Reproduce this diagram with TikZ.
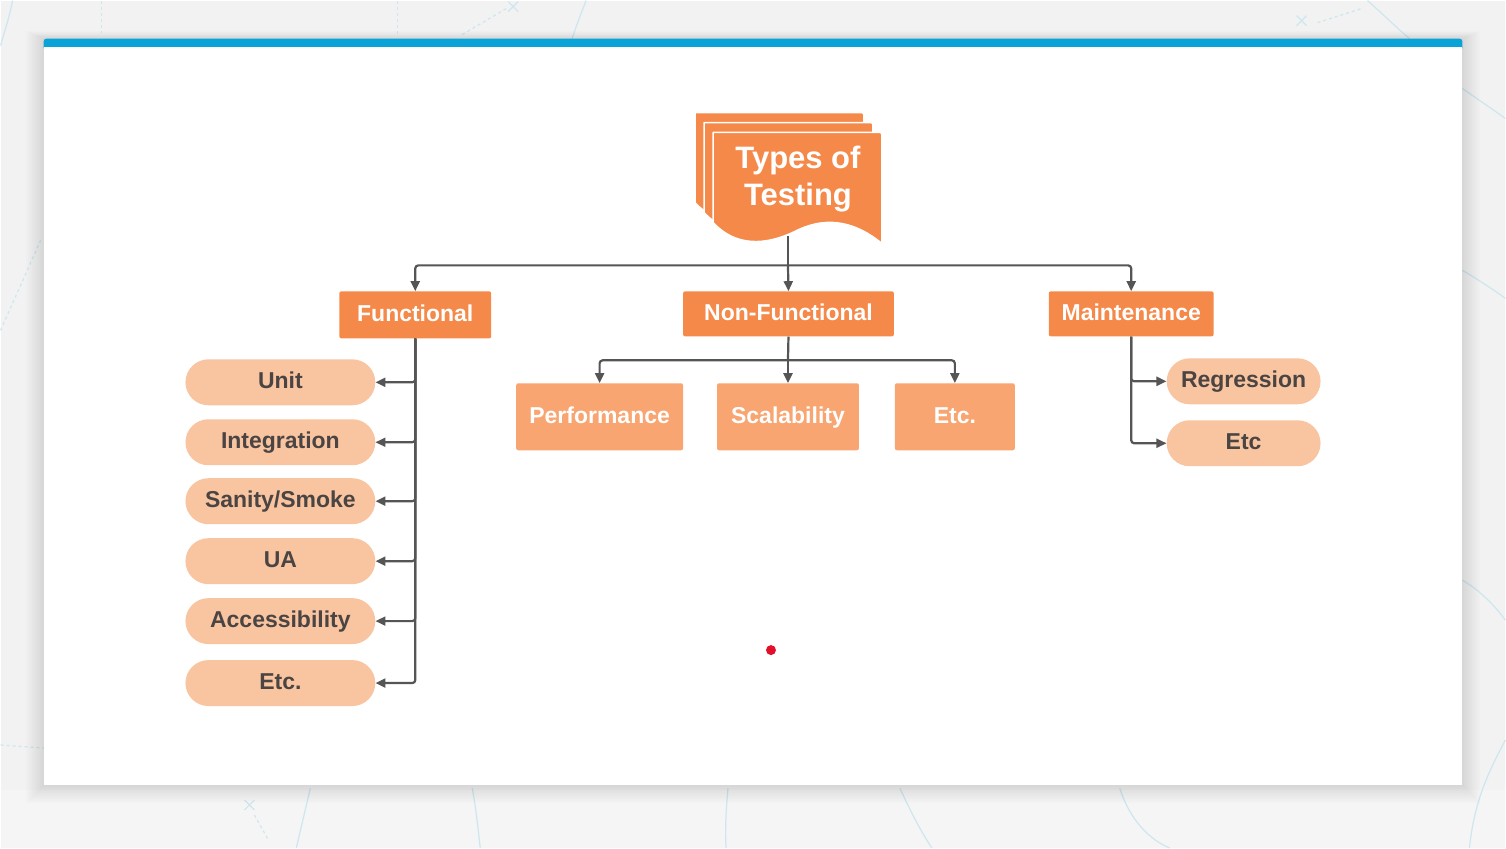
\documentclass[tikz,border=0pt]{standalone}
\usepackage{fontspec}
\setmainfont{Liberation Sans}
\usetikzlibrary{shapes.misc,arrows.meta}
\definecolor{bgc}{HTML}{F2F2F2}
\definecolor{deco}{HTML}{CDE6EF}
\definecolor{barblue}{HTML}{0AA3D8}
\definecolor{orangeA}{HTML}{F5894A}
\definecolor{orangeB}{HTML}{F8A571}
\definecolor{peach}{HTML}{F9C4A0}
\definecolor{txtdark}{HTML}{4A4443}
\definecolor{linec}{HTML}{555555}
\definecolor{reddot}{HTML}{E3102B}
\begin{document}
\begin{tikzpicture}[x=1pt,y=-1pt,
  lbl/.style={font=\fontsize{23}{27}\selectfont\bfseries, text height=17pt, text depth=4pt},
  mainbox/.style={lbl, fill=orangeA, rounded corners=2pt, text=white, inner sep=0pt},
  subbox/.style={lbl, fill=orangeB, rounded corners=2pt, text=white, inner sep=0pt},
  pill/.style={lbl, rounded rectangle, fill=peach, text=txtdark, minimum height=46pt, inner sep=0pt},
  wire/.style={draw=linec, line width=2.2pt, rounded corners=3pt},
  conn/.style={wire, -{Triangle[length=10pt,width=9pt]}},
  decoline/.style={draw=deco, line width=1.2pt},
  titlepage/.style={fill=orangeA, draw=white, line width=1.5pt, line join=round}]
% background
\fill[bgc] (0,0) rectangle (1506,848);
\fill[black!4] (0,790) rectangle (1506,848);
% faint decorations
\draw[decoline, dashed] (101,0) -- (101,32);
\draw[decoline, dashed] (397,0) -- (397,36);
\draw[decoline, dashed] (462,34) -- (506,8);
\draw[decoline] (508,1) -- (518,11) (518,1) -- (508,11);
\draw[decoline] (572,38) .. controls (578,20) and (582,10) .. (586,0);
\draw[decoline] (12,0) .. controls (8,20) and (4,30) .. (0,45);
\draw[decoline] (1297,15) -- (1307,25) (1307,15) -- (1297,25);
\draw[decoline, dashed] (1318,22) -- (1362,8);
\draw[decoline] (1368,0) .. controls (1385,15) and (1398,28) .. (1410,38);
\draw[decoline] (1463,88) .. controls (1480,100) and (1495,110) .. (1506,118);
\draw[decoline] (1463,270) .. controls (1480,280) and (1495,290) .. (1506,298);
\draw[decoline] (1463,580) .. controls (1480,590) and (1495,605) .. (1506,620);
\draw[decoline] (1506,740) .. controls (1490,770) and (1475,800) .. (1470,848);
\draw[decoline, dashed] (0,330) -- (40,240);
\draw[decoline, dashed] (0,745) -- (43,748);
\draw[decoline] (244,800) -- (254,810) (254,800) -- (244,810);
\draw[decoline, dashed] (254,815) -- (268,840);
\draw[decoline] (310,788) .. controls (305,810) and (300,830) .. (296,848);
\draw[decoline] (472,788) .. controls (476,810) and (478,830) .. (480,848);
\draw[decoline] (728,788) .. controls (726,810) and (725,830) .. (726,848);
\draw[decoline] (900,788) .. controls (910,810) and (920,830) .. (932,848);
\draw[decoline] (1120,788) .. controls (1130,820) and (1150,840) .. (1170,848);
% card shadow
\foreach \d in {2,4,...,18}
  \fill[black, opacity=0.012] (43-\d,38-\d*0.4) rectangle (1463+\d,785+\d);
% card
\fill[white] (43,40) rectangle (1463,785);
\fill[barblue, rounded corners=3pt] (43,38) rectangle (1463,50);
\fill[white] (43,46) rectangle (1463,52);
% title: stacked documents
\foreach \s in {-18,-9,0}{
  \begin{scope}[shift={(\s,\s*1.1)}]
    \path[titlepage, rounded corners=2pt] (713,132) -- (882,132) -- (882,243)
      [rounded corners=0pt] .. controls (858,224) and (830,214) .. (797,230)
      .. controls (765,246) and (735,246) .. (713,222) -- cycle;
  \end{scope}
}
\node[font=\fontsize{31}{37}\selectfont\bfseries, text=white, align=center] (title) at (798,178.5) {Types of\\Testing};
\coordinate (tb) at (788,236);
% level 1
\node[mainbox, minimum width=152pt, minimum height=47pt] (func) at (415,314.5) {Functional};
\node[mainbox, minimum width=211pt, minimum height=45pt] (nf) at (788.5,313.5) {Non-Functional};
\node[mainbox, minimum width=165pt, minimum height=45pt] (maint) at (1131.5,313.5) {Maintenance};
% non-functional children
\node[subbox, minimum width=167pt, minimum height=67pt] (perf) at (599.5,416.5) {Performance};
\node[subbox, minimum width=142pt, minimum height=67pt] (scal) at (788,416.5) {Scalability};
\node[subbox, minimum width=120pt, minimum height=67pt] (etcnf) at (955,416.5) {Etc.};
% functional children
\node[pill, minimum width=190pt] (unit) at (280,382) {Unit};
\node[pill, minimum width=190pt] (integ) at (280,442) {Integration};
\node[pill, minimum width=190pt] (sanity) at (280,501) {Sanity/Smoke};
\node[pill, minimum width=190pt] (ua) at (280,561) {UA};
\node[pill, minimum width=190pt] (access) at (280,621) {Accessibility};
\node[pill, minimum width=190pt] (etcf) at (280,683) {Etc.};
% maintenance children
\node[pill, minimum width=154pt] (regr) at (1244,381) {Regression};
\node[pill, minimum width=154pt] (etcm) at (1244,443) {Etc};
% connectors
\draw[wire] (tb) -- (788,265) coordinate (hub);
\draw[conn] (hub) -| (func.north);
\draw[conn] (hub) -- (nf.north);
\draw[conn] (hub) -| (maint.north);
\draw[wire] (nf.south) -- (788,360) coordinate (nfhub);
\draw[conn] (nfhub) -| (perf.north);
\draw[conn] (nfhub) -- (scal.north);
\draw[conn] (nfhub) -| (etcnf.north);
\foreach \n in {unit,integ,sanity,ua,access,etcf}
  \draw[conn] (func.south) |- (\n.east);
\draw[conn] (maint.south) |- (regr.west);
\draw[conn] (maint.south) |- (etcm.west);
% pointer dot
\fill[reddot] (771,650) circle (5);
\end{tikzpicture}
\end{document}
